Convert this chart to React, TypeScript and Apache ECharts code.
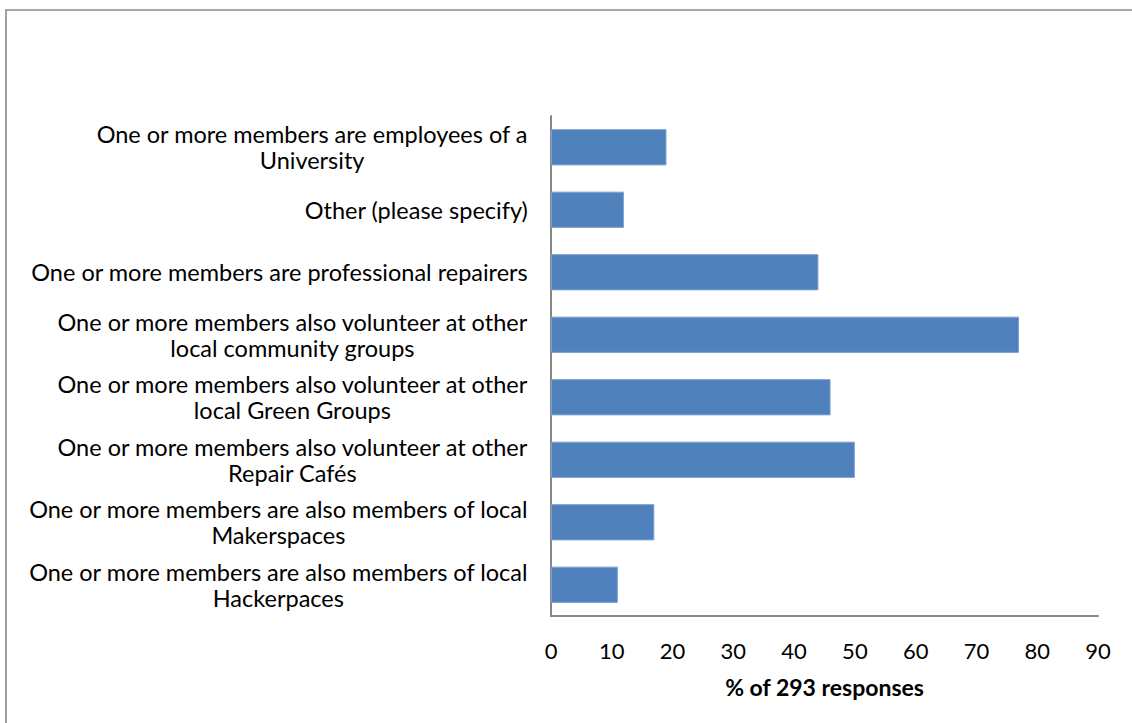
import React, { useEffect, useRef } from "react";
import * as echarts from "echarts";

const categories: string[] = [
  "One or more members are also members of local\nHackerpaces",
  "One or more members are also members of local\nMakerspaces",
  "One or more members also volunteer at other\nRepair Cafés",
  "One or more members also volunteer at other\nlocal Green Groups",
  "One or more members also volunteer at other\nlocal community groups",
  "One or more members are professional repairers",
  "Other (please specify)",
  "One or more members are employees of a\nUniversity",
];
const values: number[] = [11, 17, 50, 46, 77, 44, 12, 19];
const axisName = "% of 293 responses";

const FONT = "Lato, 'Open Sans', sans-serif";

export default function App() {
  const ref = useRef<HTMLDivElement>(null);
  useEffect(() => {
    document.body.style.margin = "0";
    const chart = echarts.init(ref.current!, null, { renderer: "svg" });
    chart.setOption({
      animation: false,
      backgroundColor: "#ffffff",
      graphic: [
        {
          type: "rect",
          shape: { x: 6, y: 10, width: 1140, height: 730 },
          style: { fill: "none", stroke: "#898989", lineWidth: 1.6 },
          silent: true,
        },
      ],
      grid: { left: 551, right: 34, top: 116, bottom: 107, containLabel: false },
      xAxis: {
        type: "value",
        min: 0,
        max: 90,
        interval: 10,
        name: axisName,
        nameLocation: "middle",
        nameGap: 59,
        nameTextStyle: { fontFamily: FONT, fontSize: 23, fontWeight: "bold", color: "#000" },
        axisLine: { show: true, lineStyle: { color: "#868686", width: 2 } },
        axisTick: { show: false },
        splitLine: { show: false },
        axisLabel: { fontFamily: FONT, fontSize: 22, color: "#000", margin: 23 },
      },
      yAxis: {
        type: "category",
        data: categories,
        axisLine: { show: true, lineStyle: { color: "#868686", width: 2 } },
        axisTick: { show: false },
        splitLine: { show: false },
        axisLabel: {
          fontFamily: FONT,
          fontSize: 23.5,
          color: "#000",
          margin: 23,
          align: "right",
          lineHeight: 26,
          formatter: (v: string) =>
            v
              .split("\n")
              .map((l) => "{c|" + l + "}")
              .join("\n"),
          rich: {
            c: {
              align: "center",
              fontFamily: FONT,
              fontSize: 23.5,
              lineHeight: 26,
              color: "#000",
            },
          },
        },
      },
      series: [
        {
          type: "bar",
          data: values,
          barCategoryGap: "42%",
          itemStyle: { color: "#4F81BD", borderColor: "#7FA2D0", borderWidth: 1 },
        },
      ],
    });
    return () => chart.dispose();
  }, []);
  return (
    <div
      ref={ref}
      style={{ position: "absolute", left: 0, top: 0, width: 1132, height: 723 }}
    />
  );
}
